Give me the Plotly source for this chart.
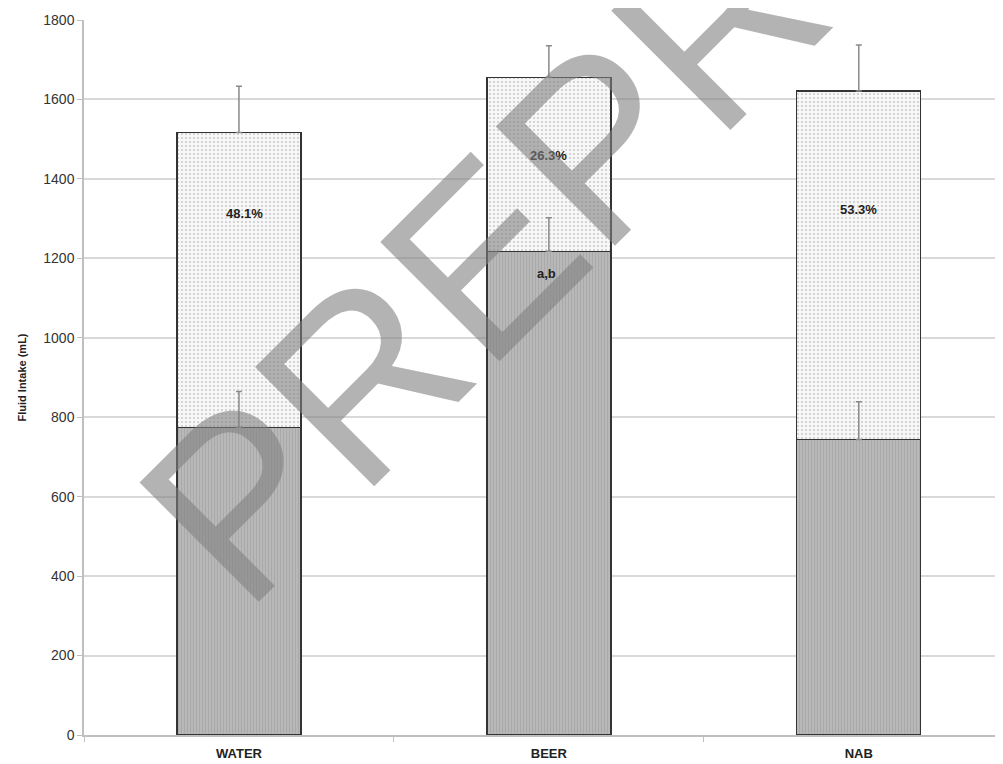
import plotly.graph_objects as go

categories = ["WATER", "BEER", "NAB"]
bottom_vals = [775, 1218, 744]
top_vals = [742, 438, 877]          # stacked segment heights
bottom_err = [90, 84, 95]
top_err = [116, 79, 116]
pct_labels = ["48.1%", "26.3%", "53.3%"]
sig_label = "a,b"

totals = [b + t for b, t in zip(bottom_vals, top_vals)]

FONT = "Liberation Sans Narrow, Arial Narrow, Liberation Sans, Arial, sans-serif"

fig = go.Figure()
fig.add_trace(go.Bar(
    x=categories, y=bottom_vals, width=0.4,
    marker=dict(color="#b4b4b4",
                line=dict(color="#333333", width=1.3),
                pattern=dict(shape="|", size=3, solidity=0.3,
                             fgcolor="#979797", bgcolor="#b8b8b8")),
    showlegend=False, hoverinfo="skip"))
fig.add_trace(go.Bar(
    x=categories, y=top_vals, width=0.4,
    marker=dict(color="#f6f6f6",
                line=dict(color="#333333", width=1.3),
                pattern=dict(shape=".", size=4, solidity=0.2,
                             fgcolor="#9a9a9a", bgcolor="#f7f7f7")),
    showlegend=False, hoverinfo="skip"))

# error bars drawn above bars
fig.add_trace(go.Scatter(
    x=categories, y=bottom_vals, mode="markers",
    marker=dict(size=1, opacity=0),
    error_y=dict(type="data", symmetric=False, array=bottom_err,
                 arrayminus=[0, 0, 0], color="#8a8a8a", thickness=1.5, width=3),
    showlegend=False, hoverinfo="skip"))
fig.add_trace(go.Scatter(
    x=categories, y=totals, mode="markers",
    marker=dict(size=1, opacity=0),
    error_y=dict(type="data", symmetric=False, array=top_err,
                 arrayminus=[0, 0, 0], color="#8a8a8a", thickness=1.5, width=3),
    showlegend=False, hoverinfo="skip"))

annots = []
label_y = [1314, 1458, 1322]
label_shift = [6, 0, 0]
for c, t, yy, xs in zip(categories, pct_labels, label_y, label_shift):
    annots.append(dict(x=c, y=yy, xref="x", yref="y", text="<b>%s</b>" % t,
                       showarrow=False, xshift=xs,
                       font=dict(family=FONT, size=13, color="#222222")))
annots.append(dict(x=categories[1], y=1161, xref="x", yref="y",
                   text="<b>%s</b>" % sig_label, showarrow=False, xshift=-2,
                   font=dict(family=FONT, size=13, color="#222222")))
# watermark
annots.append(dict(x=0.584, y=0.863, xref="paper", yref="paper",
                   text="PREPRINT", showarrow=False, textangle=-45,
                   xanchor="center", yanchor="middle",
                   font=dict(family="Liberation Sans, Arial, sans-serif",
                             size=245, color="rgba(128,128,128,0.6)")))

fig.update_layout(
    barmode="stack",
    width=1003, height=764,
    margin=dict(l=76, r=5, t=12, b=37),
    plot_bgcolor="white", paper_bgcolor="white",
    annotations=annots,
)
fig.update_xaxes(
    range=[-0.5, 2.475], type="category",
    showline=True, linecolor="#bfbfbf", linewidth=1.5,
    ticks="outside", tickson="boundaries", ticklen=5, tickcolor="#bfbfbf",
    showgrid=False, ticklabelstandoff=6,
    tickfont=dict(family=FONT, size=13, color="#222222"),
    ticktext=["<b>%s</b>" % c for c in categories], tickvals=categories,
)
fig.update_yaxes(
    range=[0, 1800], dtick=200,
    showline=True, linecolor="#bfbfbf", linewidth=1.5,
    ticks="outside", ticklen=5, tickcolor="#bfbfbf",
    showgrid=True, gridcolor="#d9d9d9", gridwidth=1.5,
    zeroline=False,
    tickfont=dict(family=FONT, size=14, color="#333333"),
    title=dict(text="<b>Fluid Intake (mL)</b>", standoff=14,
               font=dict(family=FONT, size=11, color="#222222")),
)

fig.write_html("out.html")
